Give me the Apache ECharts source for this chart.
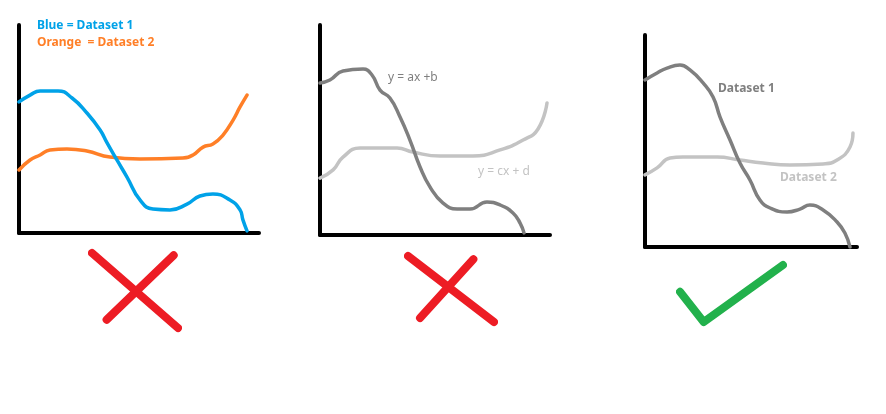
<!DOCTYPE html>
<html>
<head>
<meta charset="utf-8">
<script src="https://cdn.jsdelivr.net/npm/echarts@6/dist/echarts.min.js"></script>
<style>
html,body{margin:0;padding:0;background:#fff;}
#main{width:886px;height:414px;}
</style>
</head>
<body>
<div id="main"></div>
<script>
// Panel 1 (coloured)
const p1Blue = [[0,63],[4.6,66.3],[8.8,68.3],[16.3,68.3],[22.1,64.9],[28.3,57.7],[33.8,49.5],[36.7,43.3],[40.8,35.1],[45,26.9],[50.4,15.9],[55.8,11.5],[62.9,11.1],[70,13.9],[75.4,17.8],[80.8,18.8],[87.9,15.9],[92.1,11.1],[93.3,6.3],[95,1]];
const p1Orange = [[0,30.3],[4.6,35.1],[8.8,37.5],[12.9,39.9],[20,40.4],[28.3,39.4],[37.9,36.5],[50.4,35.6],[68.3,36.1],[72.5,37.5],[76.7,41.3],[80.8,42.8],[85,47.1],[89.2,54.3],[92.1,60.6],[95,66.3]];
// Panel 2 (grey with equations)
const p2Dark = [[0,72.4],[4.3,73.8],[10,78.1],[18.7,79],[22.6,76.2],[26.1,69],[30.4,65.2],[34.8,56.2],[39.1,45.2],[43.5,32.4],[47.8,22.9],[53.5,15.2],[59.6,12.4],[65.2,12.4],[72.6,15.7],[78.3,14.3],[83.9,10.5],[87,5.7],[88.7,1]];
const p2Light = [[0,27.1],[5.7,31],[10,37.1],[17.4,41.4],[33.5,41.4],[40.4,39.5],[52.2,37.6],[66.5,37.6],[78.3,40.5],[88.3,45.2],[94.8,50.5],[98.7,62.9]];
// Panel 3 (grey with direct labels)
const p3Dark = [[0,78.8],[5.7,82.1],[10.4,84.4],[16.5,85.8],[21.2,83.5],[27.4,77.4],[32.1,70.8],[35.4,61.3],[40.1,50.5],[44.8,39.6],[49.5,31.6],[54.2,22.2],[59,18.4],[67,16.5],[73.1,17.9],[77.8,19.8],[84,17.5],[90.6,11.8],[94.3,6.6],[96.7,0]];
const p3Light = [[0,34],[5.7,37.3],[11.8,42],[17.9,42.5],[34,42.5],[44.8,41],[55.7,39.6],[68.4,38.7],[84,39.2],[90.6,41],[96.7,47.2],[98.1,53.8]];
// Verdict marks
const cross1A = [[0,100],[100,0]];
const cross1B = [[95,97],[17,11]];
const cross2A = [[0,100],[100,0]];
const cross2B = [[76,95],[14,6]];
const tick = [[0,53],[23,0],[100,100]];

const labels = {
  legend1: 'Blue = Dataset 1',
  legend2: 'Orange  = Dataset 2',
  eq1: 'y = ax +b',
  eq2: 'y = cx + d',
  ds1: 'Dataset 1',
  ds2: 'Dataset 2'
};

const chart = echarts.init(document.getElementById('main'), null, {renderer:'canvas'});

const grids = [
  {left:19, top:25, width:240, height:208},
  {left:320, top:25, width:230, height:210},
  {left:645, top:35, width:212, height:212},
  {left:92, top:253, width:86, height:75},
  {left:408, top:256, width:86, height:66},
  {left:680, top:265, width:103, height:57}
];

function axis(i, show){
  return {
    gridIndex:i, type:'value', min:0, max:100,
    axisLine:{show:show, onZero:false, lineStyle:{color:'#000', width:4}},
    axisTick:{show:false}, axisLabel:{show:false}, splitLine:{show:false}
  };
}
const xAxes = grids.map((g,i)=>axis(i, i<3));
const yAxes = grids.map((g,i)=>axis(i, i<3));

function curve(i, data, color){
  return {type:'line', xAxisIndex:i, yAxisIndex:i, data:data, smooth:0.5, showSymbol:false, symbol:'none',
    lineStyle:{color:color, width:3.5, cap:'round', join:'round'}, silent:true};
}
function mark(i, data, color){
  return {type:'line', xAxisIndex:i, yAxisIndex:i, data:data, showSymbol:false, symbol:'none',
    lineStyle:{color:color, width:8, cap:'round', join:'round'}, silent:true, clip:false};
}

const red = '#ED1C24';
const green = '#22B14C';

const font = '"Noto Sans", "DejaVu Sans", sans-serif';
function txt(x, y, text, color, weight, size){
  return {type:'text', x:x, y:y, style:{text:text, fill:color, font: weight+' '+size+'px '+font, textVerticalAlign:'middle'}, silent:true};
}

chart.setOption({
  animation:false,
  backgroundColor:'#fff',
  grid:grids,
  xAxis:xAxes,
  yAxis:yAxes,
  series:[
    curve(0, p1Orange, '#FF7F27'),
    curve(0, p1Blue, '#00A2E8'),
    curve(1, p2Light, '#C3C3C3'),
    curve(1, p2Dark, '#7F7F7F'),
    curve(2, p3Light, '#C3C3C3'),
    curve(2, p3Dark, '#7F7F7F'),
    mark(3, cross1A, red), mark(3, cross1B, red),
    mark(4, cross2A, red), mark(4, cross2B, red),
    mark(5, tick, green)
  ],
  graphic:[
    txt(37, 26, labels.legend1, '#00A2E8', 'bold', 12),
    txt(37, 43, labels.legend2, '#FF7F27', 'bold', 12),
    txt(388, 78, labels.eq1, '#7F7F7F', 'normal', 12),
    txt(478, 172, labels.eq2, '#C3C3C3', 'normal', 12),
    txt(718, 89, labels.ds1, '#7F7F7F', 'bold', 12),
    txt(780, 178, labels.ds2, '#C3C3C3', 'bold', 12)
  ]
});
</script>
</body>
</html>
